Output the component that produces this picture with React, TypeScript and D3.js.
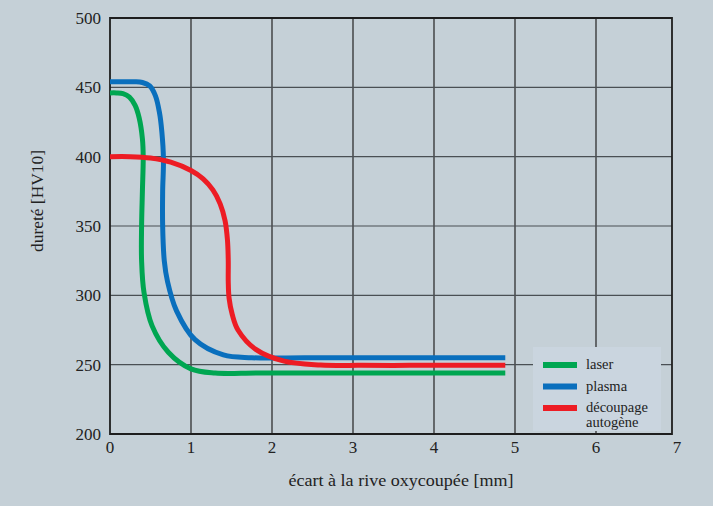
import { useEffect, useRef } from "react";
import * as d3 from "d3";

const W = 713, H = 506;
const PLOT = { left: 110, right: 677, top: 18, bottom: 434 };

const xTicks = [0, 1, 2, 3, 4, 5, 6, 7];
const yTicks = [200, 250, 300, 350, 400, 450, 500];

// readings, distance [mm] vs hardness [HV10]
const laserX = [0, 0.08, 0.16, 0.24, 0.31, 0.36, 0.4, 0.41, 0.4, 0.39, 0.39, 0.42, 0.52, 0.72, 1.0, 1.3, 1.8, 2.5, 3.2, 4.0, 4.88];
const laserY = [446, 446, 445.5, 443, 437, 428, 413, 400, 375, 350, 325, 302, 278, 259, 247, 244, 244, 244, 244, 244, 244];
const plasmaX = [0, 0.1, 0.2, 0.3, 0.4, 0.49, 0.56, 0.61, 0.64, 0.66, 0.65, 0.65, 0.67, 0.71, 0.82, 1.05, 1.4, 1.75, 2.4, 3.1, 3.9, 4.88];
const plasmaY = [454, 454, 454, 454, 453.5, 451, 444, 432, 418, 398, 375, 350, 325, 310, 289, 268, 257, 255, 255, 255, 255, 255];
const autoX = [0, 0.25, 0.5, 0.75, 1.0, 1.15, 1.27, 1.36, 1.42, 1.45, 1.46, 1.46, 1.47, 1.51, 1.58, 1.8, 2.15, 2.6, 3.1, 3.7, 4.3, 4.88];
const autoY = [400, 400, 399, 396, 390, 384, 376, 366, 354, 340, 325, 310, 298, 286, 275, 261, 252.5, 249.8, 249.5, 249.5, 249.5, 249.5];

const series = [
  { name: ["laser"], xs: laserX, ys: laserY, color: "#00a651" },
  { name: ["plasma"], xs: plasmaX, ys: plasmaY, color: "#0a6fbd" },
  { name: ["découpage", "autogène"], xs: autoX, ys: autoY, color: "#ed1c24" },
];

const FONT = "'Times New Roman','Liberation Serif',Tinos,'Noto Serif','DejaVu Serif',serif";

export default function App() {
  const ref = useRef<SVGSVGElement>(null);

  useEffect(() => {
    if (!ref.current) return;
    const svg = d3.select(ref.current);
    svg.selectAll("*").remove();

    svg.append("rect").attr("width", W).attr("height", H).attr("fill", "#c5d0d7");

    const x = d3.scaleLinear().domain([0, 7]).range([PLOT.left, PLOT.right]);
    const y = d3.scaleLinear().domain([200, 500]).range([PLOT.bottom, PLOT.top]);
    const frameRight = x(7) - 5;

    // grid
    svg.append("g").selectAll("line").data(xTicks.filter(t => t > 0 && t < 7)).join("line")
      .attr("x1", d => x(d)).attr("x2", d => x(d)).attr("y1", PLOT.top).attr("y2", PLOT.bottom)
      .attr("stroke", "#222").attr("stroke-width", 1.2);
    svg.append("g").selectAll("line").data(yTicks.filter(t => t > 200 && t < 500)).join("line")
      .attr("x1", PLOT.left).attr("x2", frameRight).attr("y1", d => y(d)).attr("y2", d => y(d))
      .attr("stroke", "#4a4f54").attr("stroke-width", 1.2);

    // frame
    svg.append("path")
      .attr("d", `M${PLOT.left},${PLOT.bottom}V${PLOT.top}H${frameRight}V${PLOT.bottom}Z`)
      .attr("fill", "none").attr("stroke", "#1e1e1e").attr("stroke-width", 1.8);

    // tick labels
    svg.append("g").selectAll("text").data(xTicks).join("text")
      .attr("x", d => x(d)).attr("y", PLOT.bottom + 19)
      .attr("text-anchor", "middle").style("font-family", FONT).attr("font-size", 17).attr("fill", "#222")
      .text(d => d);
    svg.append("g").selectAll("text").data(yTicks).join("text")
      .attr("x", PLOT.left - 9).attr("y", d => y(d) + 6)
      .attr("text-anchor", "end").style("font-family", FONT).attr("font-size", 17).attr("fill", "#222")
      .text(d => d);

    // axis titles
    svg.append("text").attr("x", 401).attr("y", 486).attr("text-anchor", "middle")
      .style("font-family", FONT).attr("font-size", 16).attr("fill", "#222")
      .attr("textLength", 225).attr("lengthAdjust", "spacingAndGlyphs")
      .text("écart à la rive oxycoupée [mm]");
    svg.append("text").attr("transform", "translate(43,201) rotate(-90)").attr("text-anchor", "middle")
      .style("font-family", FONT).attr("font-size", 16).attr("fill", "#222")
      .attr("textLength", 102).attr("lengthAdjust", "spacingAndGlyphs")
      .text("dureté [HV10]");

    // legend box (sits over the grid)
    svg.append("rect").attr("x", 533).attr("y", 347).attr("width", 128).attr("height", 84).attr("fill", "#cad5df");

    // curves
    const line = d3.line<[number, number]>().x(d => x(d[0])).y(d => y(d[1]))
      .curve(d3.curveCatmullRom.alpha(0.5));
    series.forEach(s => {
      const pts = s.xs.map((v, i) => [v, s.ys[i]] as [number, number]);
      svg.append("path").attr("d", line(pts)!).attr("fill", "none")
        .attr("stroke", s.color).attr("stroke-width", 5).attr("stroke-linejoin", "round");
    });

    // legend
    const lg = svg.append("g");
    series.forEach((s, i) => {
      const cy = 365 + i * 21.5;
      lg.append("rect").attr("x", 543).attr("y", cy - 3).attr("width", 34).attr("height", 6).attr("fill", s.color);
      s.name.forEach((n, j) => {
        lg.append("text").attr("x", 586).attr("y", cy + 4 + j * 15)
          .style("font-family", FONT).attr("font-size", 14.5).attr("fill", "#222").text(n);
      });
    });
  }, []);

  return <svg ref={ref} width={W} height={H} style={{ position: "absolute", left: 0, top: 0 }} />;
}
